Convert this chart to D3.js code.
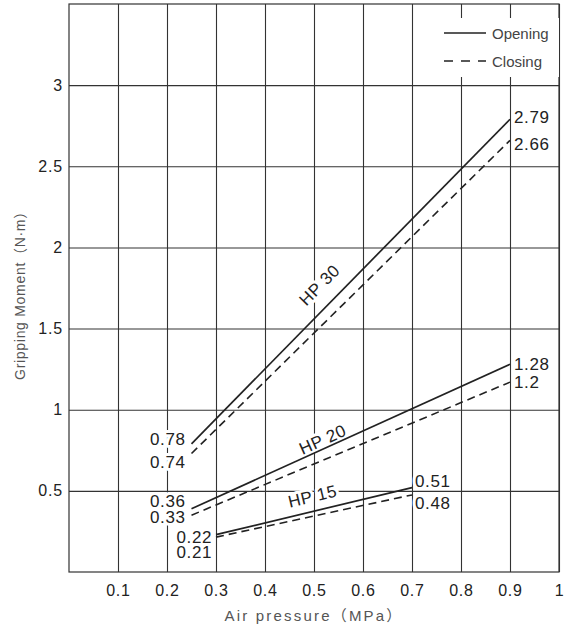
<!DOCTYPE html>
<html lang="en">
<head>
<meta charset="utf-8">
<title>Gripping Moment vs Air pressure</title>
<script src="https://d3js.org/d3.v7.min.js"></script>
<style>
  body { margin: 0; background: #fff; }
  svg text {
    font-family: "Liberation Sans", Arial, "Noto Sans CJK JP", sans-serif;
    fill: #222;
  }
  .tick text { font-size: 16px; letter-spacing: 0.8px; }
  .grid line { stroke: #333; stroke-width: 1.1; }
  .val { font-size: 17px; letter-spacing: 0.6px; }
  .model { font-size: 17px; letter-spacing: 0.5px; }
  .title { font-size: 14px; fill: #555; }
  .xtitle { font-size: 15px; letter-spacing: 2.2px; }
  .ytitle { letter-spacing: 0.7px; }
  .legend text { font-size: 15px; fill: #444; }
  .halo { fill: #fff; stroke: #fff; stroke-width: 6; stroke-linejoin: round; }
</style>
</head>
<body>
<svg id="chart" width="564" height="626"></svg>
<script>
// ---- data ----
var models = ['HP 30', 'HP 20', 'HP 15'];
var xStart = [0.25, 0.25, 0.3];
var xEnd = [0.9, 0.9, 0.7];
var openStart = [0.79, 0.39, 0.23];
var openEnd = [2.79, 1.28, 0.52];
var closeStart = [0.73, 0.35, 0.215];
var closeEnd = [2.66, 1.17, 0.475];

// printed labels at line ends
var openStartLabel = ['0.78', '0.36', '0.22'];
var closeStartLabel = ['0.74', '0.33', '0.21'];
var openEndLabel = ['2.79', '1.28', '0.51'];
var closeEndLabel = ['2.66', '1.2', '0.48'];

var xTicks = [0.1, 0.2, 0.3, 0.4, 0.5, 0.6, 0.7, 0.8, 0.9, 1];
var yTicks = [0.5, 1, 1.5, 2, 2.5, 3];
var legendLabels = ['Opening', 'Closing'];

// ---- layout ----
var svg = d3.select('#chart');
var plotL = 69, plotR = 559, plotT = 4, plotB = 572;

var x = d3.scaleLinear().domain([0, 1]).range([plotL, plotR]);
var y = d3.scaleLinear().domain([0, 3.5]).range([plotB, plotT]);

// grid + tick labels
var gx = svg.append('g')
  .attr('class', 'grid')
  .attr('transform', 'translate(0,' + plotB + ')')
  .call(d3.axisBottom(x).tickValues(xTicks).tickFormat(d3.format('')).tickSizeInner(-(plotB - plotT)).tickSizeOuter(0).tickPadding(13));
gx.select('.domain').remove();

var gy = svg.append('g')
  .attr('class', 'grid')
  .attr('transform', 'translate(' + plotL + ',0)')
  .call(d3.axisLeft(y).tickValues(yTicks).tickFormat(d3.format('')).tickSizeInner(-(plotR - plotL)).tickSizeOuter(0).tickPadding(6));
gy.select('.domain').remove();

svg.selectAll('.tick text').attr('font-family', null).attr('font-size', null).style('fill', '#222');

svg.append('rect')
  .attr('x', plotL).attr('y', plotT)
  .attr('width', plotR - plotL).attr('height', plotB - plotT)
  .attr('fill', 'none').attr('stroke', '#333').attr('stroke-width', 1.2);

// axis titles
svg.append('text').attr('class', 'title xtitle')
  .attr('x', x(0.5)).attr('y', 621)
  .attr('text-anchor', 'middle')
  .text('Air pressure（MPa）');

svg.append('text').attr('class', 'title ytitle')
  .attr('transform', 'translate(25,' + ((plotT + plotB) / 2 + 4) + ') rotate(-90)')
  .attr('text-anchor', 'middle')
  .text('Gripping Moment（N·m）');

// legend
var legend = svg.append('g').attr('class', 'legend');
legend.append('rect')
  .attr('x', 440).attr('y', 18).attr('width', 119).attr('height', 59)
  .attr('fill', '#fff');
legendLabels.forEach(function(d, i) {
  var ly = 33 + i * 28;
  legend.append('line')
    .attr('x1', 444).attr('x2', 486).attr('y1', ly).attr('y2', ly)
    .attr('stroke', '#222').attr('stroke-width', 1.6)
    .attr('stroke-dasharray', i === 1 ? '9,8' : null);
  legend.append('text').attr('x', 492).attr('y', ly + 6).text(d);
});

// ---- label placement (pixel nudges) ----
var startDx = [-6, -6, -4];
var openStartDy = [1, -2, 8];
var closeStartDy = [14, 8, 21];
var endDx = [4, 4, 3];
var openEndDy = [4, 6, -1];
var closeEndDy = [10, 6, 14];
var modelAt = [0.54, 0.525, 0.504];
var modelOff = [14, 3, 9];

var labels = [];
models.forEach(function(m, i) {
  labels.push({ t: openStartLabel[i], x: x(xStart[i]) + startDx[i], y: y(openStart[i]) + openStartDy[i], a: 'end' });
  labels.push({ t: closeStartLabel[i], x: x(xStart[i]) + startDx[i], y: y(closeStart[i]) + closeStartDy[i], a: 'end' });
  labels.push({ t: openEndLabel[i], x: x(xEnd[i]) + endDx[i], y: y(openEnd[i]) + openEndDy[i], a: 'start' });
  labels.push({ t: closeEndLabel[i], x: x(xEnd[i]) + endDx[i], y: y(closeEnd[i]) + closeEndDy[i], a: 'start' });
});

var modelLabels = models.map(function(m, i) {
  var ang = Math.atan2(y(openEnd[i]) - y(openStart[i]), x(xEnd[i]) - x(xStart[i]));
  var t = (modelAt[i] - xStart[i]) / (xEnd[i] - xStart[i]);
  var px = x(modelAt[i]);
  var py = y(openStart[i] + t * (openEnd[i] - openStart[i]));
  px += modelOff[i] * Math.sin(ang);
  py -= modelOff[i] * Math.cos(ang);
  return { t: m, tr: 'translate(' + px + ',' + py + ') rotate(' + (ang * 180 / Math.PI) + ')' };
});

// white halos under the labels (cut the grid)
var bg = svg.append('g');
bg.selectAll('text.val')
  .data(labels).enter().append('text')
  .attr('class', 'val halo')
  .attr('x', function(d) { return d.x; })
  .attr('y', function(d) { return d.y; })
  .attr('text-anchor', function(d) { return d.a; })
  .text(function(d) { return d.t; });
bg.selectAll('text.model')
  .data(modelLabels).enter().append('text')
  .attr('class', 'model halo')
  .attr('transform', function(d) { return d.tr; })
  .attr('text-anchor', 'middle')
  .text(function(d) { return d.t; });

// lines
var line = d3.line().x(function(d) { return x(d[0]); }).y(function(d) { return y(d[1]); });
models.forEach(function(m, i) {
  svg.append('path')
    .attr('d', line([[xStart[i], openStart[i]], [xEnd[i], openEnd[i]]]))
    .attr('fill', 'none').attr('stroke', '#222').attr('stroke-width', 1.7);
  svg.append('path')
    .attr('d', line([[xStart[i], closeStart[i]], [xEnd[i], closeEnd[i]]]))
    .attr('fill', 'none').attr('stroke', '#222').attr('stroke-width', 1.6)
    .attr('stroke-dasharray', '8,5');
});

// label text
var fg = svg.append('g');
fg.selectAll('text.val')
  .data(labels).enter().append('text')
  .attr('class', 'val')
  .attr('x', function(d) { return d.x; })
  .attr('y', function(d) { return d.y; })
  .attr('text-anchor', function(d) { return d.a; })
  .text(function(d) { return d.t; });
fg.selectAll('text.model')
  .data(modelLabels).enter().append('text')
  .attr('class', 'model')
  .attr('transform', function(d) { return d.tr; })
  .attr('text-anchor', 'middle')
  .text(function(d) { return d.t; });
</script>
</body>
</html>
